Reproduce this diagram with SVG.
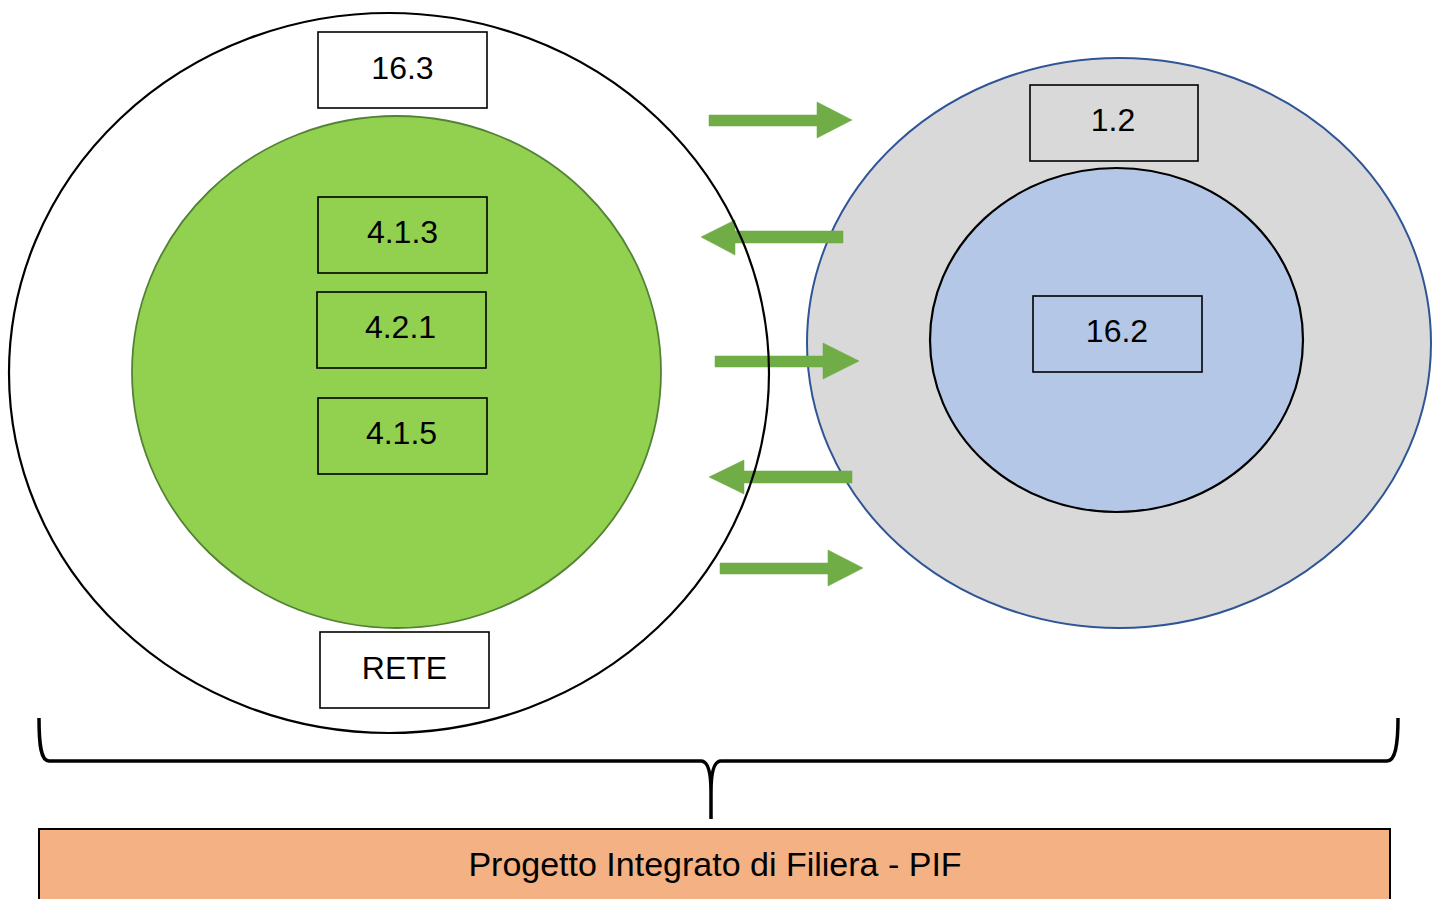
<svg xmlns="http://www.w3.org/2000/svg" width="1440" height="899" viewBox="0 0 1440 899">
<style>
.box{stroke:#000;stroke-width:1.6}
.lbl{font-family:"Liberation Sans",Arial,sans-serif;font-size:32px;fill:#000;text-anchor:middle}
.arrow{fill:#70AD47;stroke:#6aa843;stroke-width:0.5}
</style>
<rect width="1440" height="899" fill="#fff"/>
<g id="outer-left">
<ellipse cx="389" cy="373" rx="380" ry="360" fill="#fff"/>
</g>
<g id="green-area">
<ellipse cx="396.5" cy="372" rx="264.5" ry="256" fill="#92D050" stroke="#548235" stroke-width="1.8"/>
</g>
<g id="gray-area">
<ellipse cx="1119" cy="343" rx="312" ry="285" fill="#D9D9D9" stroke="#2F5597" stroke-width="2"/>
</g>
<g id="blue-area">
<ellipse cx="1116.5" cy="340" rx="186.5" ry="172" fill="#B4C7E7" stroke="#000" stroke-width="2.2"/>
</g>
<g id="connectors">
<polygon class="arrow" points="709,115 817,115 817,102 852,120 817,138 817,126 709,126"/>
<polygon class="arrow" points="843,231 735,231 735,220 701,237 735,255 735,243 843,243"/>
<polygon class="arrow" points="715,356 823,356 823,343 859,361 823,379 823,367 715,367"/>
<polygon class="arrow" points="852,471 744,471 744,460 709,477 744,494 744,483 852,483"/>
<polygon class="arrow" points="720,563 828,563 828,550 863,568 828,586 828,574 720,574"/>
</g>
<g id="outer-left-outline">
<ellipse cx="389" cy="373" rx="380" ry="360" fill="none" stroke="#000" stroke-width="2.2"/>
</g>
<g id="n-16-3"><rect class="box" x="318" y="32" width="169" height="76" fill="#fff"/><text class="lbl" x="402.5" y="79">16.3</text></g>
<g id="n-4-1-3"><rect class="box" x="318" y="197" width="169" height="76" fill="none"/><text class="lbl" x="402.5" y="243">4.1.3</text></g>
<g id="n-4-2-1"><rect class="box" x="317" y="292" width="169" height="76" fill="none"/><text class="lbl" x="400.5" y="338">4.2.1</text></g>
<g id="n-4-1-5"><rect class="box" x="318" y="398" width="169" height="76" fill="none"/><text class="lbl" x="401.5" y="444">4.1.5</text></g>
<g id="n-rete"><rect class="box" x="320" y="632" width="169" height="76" fill="#fff"/><text class="lbl" x="404.5" y="679">RETE</text></g>
<g id="n-1-2"><rect class="box" x="1030" y="85" width="168" height="76" fill="none"/><text class="lbl" x="1113" y="131">1.2</text></g>
<g id="n-16-2"><rect class="box" x="1033" y="296" width="169" height="76" fill="none"/><text class="lbl" x="1117" y="342">16.2</text></g>
<g id="brace">
<path d="M39,718 C39,746 41,761 49,761 L701,761 C708,761 711,772 711,792 L711,819 M711,792 C711,772 714,761 721,761 L1387,761 C1395,761 1398,746 1398,718" fill="none" stroke="#000" stroke-width="3.5"/>
</g>
<g id="n-pif">
<rect x="39" y="829" width="1351" height="80" fill="#F4B183" stroke="#000" stroke-width="2"/>
<text class="lbl" x="715" y="876" style="font-size:34px">Progetto Integrato di Filiera - PIF</text>
</g>
</svg>
